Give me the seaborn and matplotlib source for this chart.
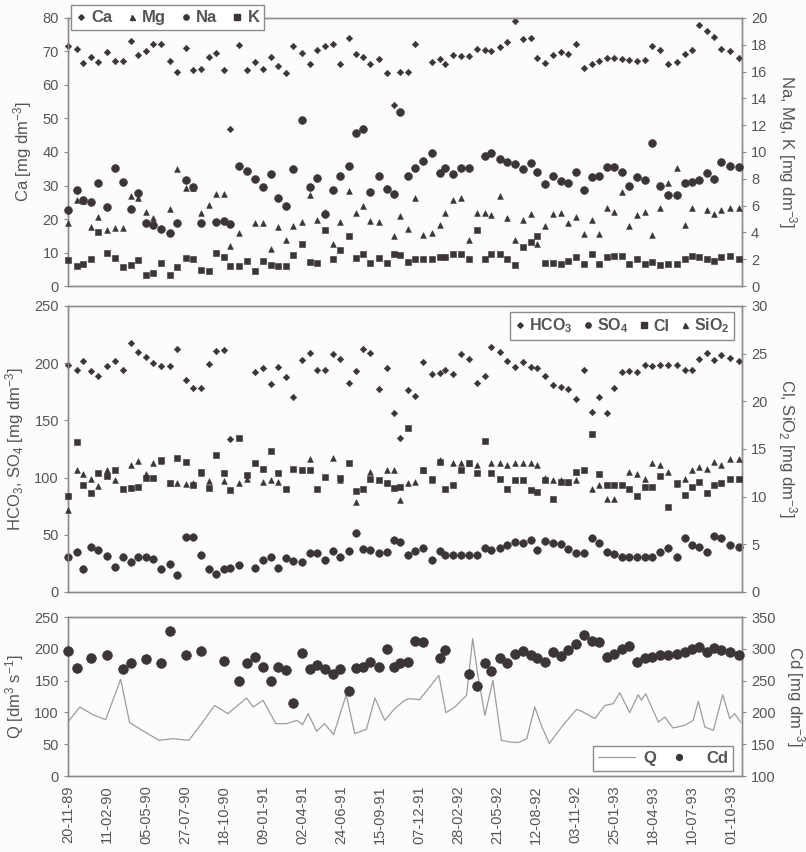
import numpy as np
import pandas as pd
import matplotlib
matplotlib.use("Agg")
import matplotlib.pyplot as plt
import matplotlib.dates as mdates
from matplotlib.lines import Line2D
import seaborn as sns

nan = np.nan

# sampling dates, as days after 20-11-89
start_date = "1989-11-20"
sample_day = [0, 19, 32, 48, 64, 83, 99, 116, 133, 148, 165, 181, 197, 216, 232, 250, 266, 282, 300, 315,
              331, 345, 363, 381, 398, 414, 431, 447, 463, 479, 497, 514, 530, 546, 563, 578, 597, 612, 628, 642,
              661, 678, 693, 706, 724, 738, 756, 775, 791, 803, 819, 837, 853, 870, 887, 901, 919, 934, 950, 968,
              984, 998, 1014, 1032, 1048, 1064, 1080, 1098, 1114, 1130, 1146, 1161, 1178, 1194, 1210, 1227, 1243,
              1259, 1277, 1295, 1312, 1328, 1342, 1360, 1375, 1390, 1408, 1427]

# top panel (Ca left axis, Na/Mg/K right axis), mg dm-3
ca = [71.5, 70.7, 66.5, 68.5, 67, 69.7, 67.2, 67.2, 73, 69, 70, 72.2, 72.2, 67.2, 64, 71, 64.5, 64.7, 68.5, 69.5,
      64.5, 47, 72, 64.5, 66.8, 64.7, 68.5, 65.8, 63.5, 71.5, 69.5, 66.2, 70.3, 71.5, 72.3, 66.2, 74, 69.2, 68.3, 66.2,
      67.7, 63.7, 53.9, 64, 64, 72.2, nan, 67, 67.7, 66.4, 69, 68.7, 68.7, 70.7, 70.4, 70.2, 71.2, 72.7, 79.2, 73.7,
      74, 68, 66.7, 69, 69.7, 69.2, 72.2, 65.2, 66.2, 67.2, 68, 68.2, 67.7, 67.5, 67.2, 67.4, 71.7, 70.4, 66.2, 67,
      69.2, 70.4, 78, 76.2, 74.2, 70.7, 70.2, 68.2]
mg = [4.7, 6.4, 6.36, 4.41, 5.16, 4.16, 4.34, 4.34, 6.7, 6.6, 5.49, 5.04, nan, 5.74, 8.73, 7.33, 7.33, 5.46, 6.03, 6.83,
      6.83, 2.97, 3.92, nan, 4.71, 4.71, 2.79, 4.41, 3.42, 4.46, 4.79, 6.78, 4.91, 5.54, 3.17, 4.79, 7.08, 5.46, 5.96, 4.84,
      4.79, nan, 3.72, 5.2, 4.22, 6.58, 3.79, 3.96, 4.54, 5.46, 6.41, 6.58, 3.42, 5.46, 5.46, 5.29, 6.71, 5.09, 3.42, 4.91,
      5.36, 3.12, 4.47, 5.36, 5.46, 4.72, 5.16, 3.87, 4.96, 3.87, 5.79, 5.54, 7.03, 4.46, 5.29, 5.54, 3.79, 5.79, 7.7, 8.78,
      4.54, 5.79, nan, 5.66, 5.36, 5.66, 5.79, 5.79]
na = [5.66, 7.16, 6.4, 6.28, 7.66, 5.91, 8.78, 7.78, 5.74, 6.96, 4.71, 4.54, 4.29, 3.92, 4.71, 7.9, 7.4, 4.71, nan, 4.8,
      4.85, 4.66, 8.98, 8.6, 7.96, 7.4, 8.35, 6.6, 5.98, 8.7, 12.4, 7.4, 8.03, 5.34, 7.2, 8.23, 8.98, 11.45, 11.7, 7.03,
      8.2, 7.23, 6.84, 12.97, 8.2, 8.83, 9.35, 9.95, 8.45, 8.83, 8.35, 8.83, 8.83, nan, 9.7, 9.95, 9.45, 9.27, 9.1, 8.73,
      9.2, 8.48, 7.58, 8.23, 7.85, 7.66, 8.53, 7.2, 8.1, 8.2, 8.9, 8.9, 8.53, 7.46, 8.1, 7.9, 10.7, 7.46, 6.78, 6.78,
      7.7, 7.78, 7.9, 8.45, 7.96, 9.27, 8.95, 8.9]
k = [1.92, 1.5, 1.62, 2.05, 4.0, 2.47, 2.1, 1.42, 1.6, 1.97, 0.8, 0.97, 1.72, 0.8, 1.42, 2.1, 2.0, 1.22, 1.1, 2.5,
     2.17, 1.5, 1.5, 1.85, 1.12, 1.85, 1.55, 1.5, 1.5, 2.34, 3.1, 1.8, 1.72, 4.21, 2.0, 2.67, 3.74, 2.1, 2.42, 1.72,
     2.07, 1.7, 2.42, 2.3, 1.8, 2.05, 2.05, 2.05, 2.2, 2.17, 2.42, 2.42, 2.05, 4.17, 2.0, 2.42, 2.42, 2.05, 1.6, 2.92,
     3.3, 3.72, 1.75, 1.7, 1.67, 1.9, 2.17, 1.67, 2.37, 1.67, 2.17, 2.25, 2.25, 1.67, 2.05, 1.67, 1.8, 1.55, 1.67, 1.67,
     2.05, 2.25, 2.17, 2.05, 1.87, 2.17, 2.25, 2.05]

# middle panel (HCO3, SO4 left axis; Cl, SiO2 right axis)
hco3 = [198.4, 194, 202, 193, 189, 197.5, 202, 194, 218, 210, 205.7, 200.4, 197.5, 197.5, 212, 185, 178, 178, 199, 211,
        211.5, 134, nan, nan, 192.5, 195.5, 181.7, 197, 188, 170, 202.7, 209, 194, 194, 207.7, 204, 183, 193, 212, 209,
        177, 195.5, 156.7, 134.8, 176.5, 171, 201, 190.7, 191.3, 193.7, 190.7, 207.7, 203.3, 182.5, 188.4, 214.2, 209.8,
        201.6, 196.6, 201, 196.6, 196, 188.4, 180.5, 179, 177, 168.7, 194.2, 157, 170.8, 156, 178, 192, 192.8, 192, 198,
        197.5, 198, 198.6, 198, 193.7, 194.2, 203.3, 209.2, 203, 206.9, 204.5, 201.9]
so4 = [30.6, 35, 20.4, 39.4, 36.5, 31.5, 21.9, 30.6, 26.3, 30.6, 30.6, 29.2, 19.8, 24.8, 14.6, 48.1, 48.1, 32.7, 20.4, 16,
       20.4, 21.3, 23.3, nan, 21.3, 28.3, 30.6, 21.3, 29.8, 27.1, 26.3, 34.1, 34.1, 28.3, 35.6, 30.6, 35.6, 51.6, 37.9,
       36.5, 34.1, 35, 45.8, 43.8, 32.3, 35.8, 38.7, 27.9, 35.8, 32.3, 32.3, 32.3, 32.3, 32.3, 38.7, 36.7, 38.1, 41.1, 44,
       42.5, 45.5, 36.7, 44.6, 42.5, 41.7, 37.5, 33.8, 33.8, 46.9, 42.5, 35.2, 32.9, 30.8, 30.8, 30.8, 30.8, 30.8, 35.2,
       38.7, 30.8, 47.5, 41.1, 39.6, 35.2, 49.3, 46.9, 41.1, 39.6]
cl = [10.04, 15.75, 11.2, 10.33, 12.43, 12.15, 12.78, 10.75, 10.86, 11.03, 12.0, 12.0, 13.83, 11.38, 14.1, 13.65, 11.2,
      12.6, 10.86, 14.35, 12.43, 10.68, 16.2, 12.25, 13.48, 12.95, 14.8, 12.43, 10.75, 12.85, 12.78, 12.78, 10.75, 12.08,
      nan, 12.0, 13.48, 10.6, 10.75, 11.9, 11.73, 11.38, 10.86, 11.0, 17.2, nan, 12.8, 11.9, 13.6, 10.85, 11.2, 12.78,
      13.48, 12.43, 15.85, 12.43, 11.8, 10.85, 11.73, 11.73, 10.68, 10.5, 11.73, 9.73, 11.55, 11.55, 12.6, 12.78, 16.55,
      12.36, 11.2, 11.2, 11.2, 10.85, 10.04, 11.03, 11.03, 12.15, 8.86, 11.38, 10.15, 11.03, 11.55, 10.33, 11.2, 11.38,
      11.8, 11.8]
sio2 = [8.65, 12.78, 12.36, 11.8, 11.1, 12.78, 11.73, nan, 13.3, 13.75, 12.36, 13.55, 13.75, 11.4, 11.4, 11.3, 11.45,
        12.5, 11.6, nan, 11.6, nan, 11.4, 11.8, nan, 11.55, 11.73, 11.5, nan, nan, nan, 13.9, nan, nan, 14.1, 11.73, nan,
        9.45, nan, 12.6, nan, 12.78, 12.78, 9.62, 11.38, 11.55, 12.78, 11.7, 13.83, nan, 13.48, 13.48, 13.48, 13.3, nan,
        13.48, 13.48, 13.3, 13.55, 13.55, 13.48, 13.3, 12.0, 11.73, 11.73, 11.55, 11.73, nan, 10.75, 11.2, 9.7, 9.7, nan,
        12.6, 12.36, 11.8, 13.55, 13.3, 12.6, 11.3, 11.8, 12.78, 13.13, 12.95, 13.65, 13.3, 13.9, 13.9]

# bottom panel: Cd (right axis) at sampling dates, Q (left axis) on its own dates
cd = [296, 270, nan, 286, nan, 290, nan, 268, 277, nan, 284, nan, 278, 328, nan, 290, nan, 296, nan, nan,
      281, nan, 249, 278, 287, 271, 249, 271, 266, 215, 294, 268, 275, 268, 261, 268, 233, 270, 271, 279,
      271, 299, 271, 278, 280, 312, 310, nan, 285, 298, nan, nan, 261, 242, 278, 265, 285, 278, 292, 296,
      291, 285, 279, 295, 289, 298, 307, 322, 313, 311, 287, 292, 300, 305, 279, 285, 287, 290, 291, 292,
      295, 299, 303, 295, 301, 298, 295, 291]
q_day = [0, 25, 53, 80, 112, 131, 161, 194, 223, 257, 284, 312, 340, 380, 394, 415, 442, 465, 487, 499,
         511, 529, 546, 565, 592, 610, 635, 653, 674, 695, 716, 727, 748, 789, 804, 823, 848, 861, 872, 887,
         904, 922, 940, 958, 976, 993, 1007, 1024, 1034, 1053, 1082, 1096, 1121, 1142, 1160, 1174, 1195, 1213,
         1220, 1229, 1256, 1270, 1287, 1312, 1330, 1341, 1355, 1373, 1393, 1408, 1418, 1431]
q_flow = [85, 108.5, 96.4, 88.5, 152, 84, 70.3, 56.1, 58.7, 56.1, 82.3, 111, 98, 122.6, 108.5, 119, 82.3, 82.3, 87.5,
          80.7, 98, 70.3, 82.3, 65, 127.9, 66.6, 73.4, 122.6, 87.5, 105.9, 119, 121.6, 120, 158.2, 99.6, 108.5, 126.8,
          216, 158.2, 95.4, 150.4, 56.1, 53.5, 52.5, 58.7, 108.5, 79.7, 50.9, 61.3, 79.7, 104.8, 100.6, 90.2, 111,
          113.7, 131, 99.6, 127.9, 119, 129.5, 84.8, 92.7, 75.5, 79.7, 87.5, 117.4, 77, 71.8, 127.9, 90.2, 98, 84.8]

sns.set_style("white")
plt.rcParams["font.family"] = ["Liberation Sans", "DejaVu Sans"]
plt.rcParams["mathtext.default"] = "regular"

ink = "#3b3535"
txt = "#555555"
frame = "#8f8a8a"

t0 = pd.Timestamp(start_date)
df = pd.DataFrame({"date": t0 + pd.to_timedelta(sample_day, unit="D"),
                   "Ca": ca, "Mg": mg, "Na": na, "K": k,
                   "HCO3": hco3, "SO4": so4, "Cl": cl, "SiO2": sio2, "Cd": cd})
dq = pd.DataFrame({"date": t0 + pd.to_timedelta(q_day, unit="D"), "Q": q_flow})

tick_dates = pd.date_range(start_date, periods=18, freq="83D")
x_end = t0 + pd.Timedelta(days=1434)

fig = plt.figure(figsize=(8.06, 8.52), dpi=100)
fig.patch.set_facecolor("#fcfcfa")
ax1 = fig.add_axes([0.0844, 0.6643, 0.8362, 0.3146])
ax2 = fig.add_axes([0.0844, 0.3052, 0.8362, 0.3357])
ax3 = fig.add_axes([0.0844, 0.0892, 0.8362, 0.1866])


def dots(ax, col, marker, s):
    sns.scatterplot(data=df, x="date", y=col, marker=marker, s=s, color=ink, edgecolor=ink,
                    linewidth=0.4, ax=ax, clip_on=False, legend=False, zorder=3)


def style(ax, lim, step, label, side="left", pad=4):
    ax.set_ylim(*lim)
    ax.set_yticks(np.arange(lim[0], lim[1] + 0.1, step))
    ax.set_ylabel(label, fontsize=12, color=txt, labelpad=pad,
                  rotation=90 if side == "left" else 270,
                  va="bottom")
    ax.set_xlabel("")
    ax.set_facecolor("none")
    for sp in ax.spines.values():
        sp.set_color(frame)
        sp.set_linewidth(1.0)
    ax.tick_params(axis="y", colors=frame, labelcolor=txt, labelsize=10.5,
                   direction="out", length=3, width=0.8)
    ax.tick_params(axis="x", colors=frame, labelcolor=txt, labelsize=10.5,
                   direction="out", length=3, width=0.8)
    ax.set_xlim(t0, x_end)
    ax.set_xticks(tick_dates)
    ax.xaxis.set_major_formatter(mdates.DateFormatter("%d-%m-%y"))


def legend_box(ax, handles, labels, anchor, **kw):
    leg = ax.legend(handles, labels, loc="center", bbox_to_anchor=anchor, ncol=len(labels),
                    fancybox=False, framealpha=1, edgecolor=frame, borderpad=0.3, **kw)
    leg.get_frame().set_linewidth(1.0)
    for t in leg.get_texts():
        t.set_color(txt)
        t.set_fontweight("bold")


# --- top panel
ax1r = ax1.twinx()
dots(ax1, "Ca", "D", 11)
dots(ax1r, "Mg", "^", 17)
dots(ax1r, "Na", "o", 32)
dots(ax1r, "K", "s", 24)
style(ax1, (0, 80), 10, "Ca [mg dm$^{-3}$]", pad=6)
style(ax1r, (0, 20), 2, "Na, Mg, K [mg dm$^{-3}$]", side="right", pad=6)
ax1.tick_params(axis="x", labelbottom=False)

h1 = [Line2D([], [], ls="none", marker=m, ms=ms, color=ink) for m, ms in
      [("D", 2.8), ("^", 3.6), ("o", 3.8), ("s", 3.8)]]
legend_box(ax1r, h1, ["Ca", "Mg", "Na", "K"], (0.148, 1.0), fontsize=12,
           handlelength=0.6, handletextpad=0.3, columnspacing=0.9)

# --- middle panel
ax2r = ax2.twinx()
dots(ax2, "HCO3", "D", 11)
dots(ax2, "SO4", "o", 30)
dots(ax2r, "Cl", "s", 24)
dots(ax2r, "SiO2", "^", 17)
style(ax2, (0, 250), 50, "HCO$_3$, SO$_4$ [mg dm$^{-3}$]", pad=6)
style(ax2r, (0, 30), 5, "Cl, SiO$_2$ [mg dm$^{-3}$]", side="right", pad=6)
ax2.tick_params(axis="x", labelbottom=False)

h2 = [Line2D([], [], ls="none", marker=m, ms=ms, color=ink) for m, ms in
      [("D", 2.8), ("o", 3.8), ("s", 3.8), ("^", 3.6)]]
legend_box(ax2r, h2, ["HCO$_3$", "SO$_4$", "Cl", "SiO$_2$"], (0.822, 0.93), fontsize=11.5,
           handlelength=0.6, handletextpad=0.25, columnspacing=0.7)

# --- bottom panel
ax3r = ax3.twinx()
sns.lineplot(data=dq, x="date", y="Q", color="#9d9d9d", linewidth=0.9, ax=ax3, zorder=2)
sns.scatterplot(data=df, x="date", y="Cd", marker="o", s=50, color=ink, edgecolor=ink,
                linewidth=0.4, ax=ax3r, clip_on=False, legend=False, zorder=3)
style(ax3, (0, 250), 50, "Q [dm$^3$ s$^{-1}$]", pad=6)
style(ax3r, (100, 350), 50, "Cd [mg dm$^{-3}$]", side="right", pad=6)
ax3r.tick_params(axis="x", labelbottom=False)
for lab in ax3.get_xticklabels():
    lab.set_rotation(90)

h3 = [Line2D([], [], color="#9d9d9d", lw=0.9),
      Line2D([], [], ls="none", marker="o", ms=4.2, color=ink)]
legend_box(ax3r, h3, ["Q", "Cd"], (0.883, 0.113), fontsize=12,
           handlelength=2.2, handletextpad=0.5, columnspacing=0.3)

fig.savefig("out.png", dpi=100, facecolor=fig.get_facecolor())
